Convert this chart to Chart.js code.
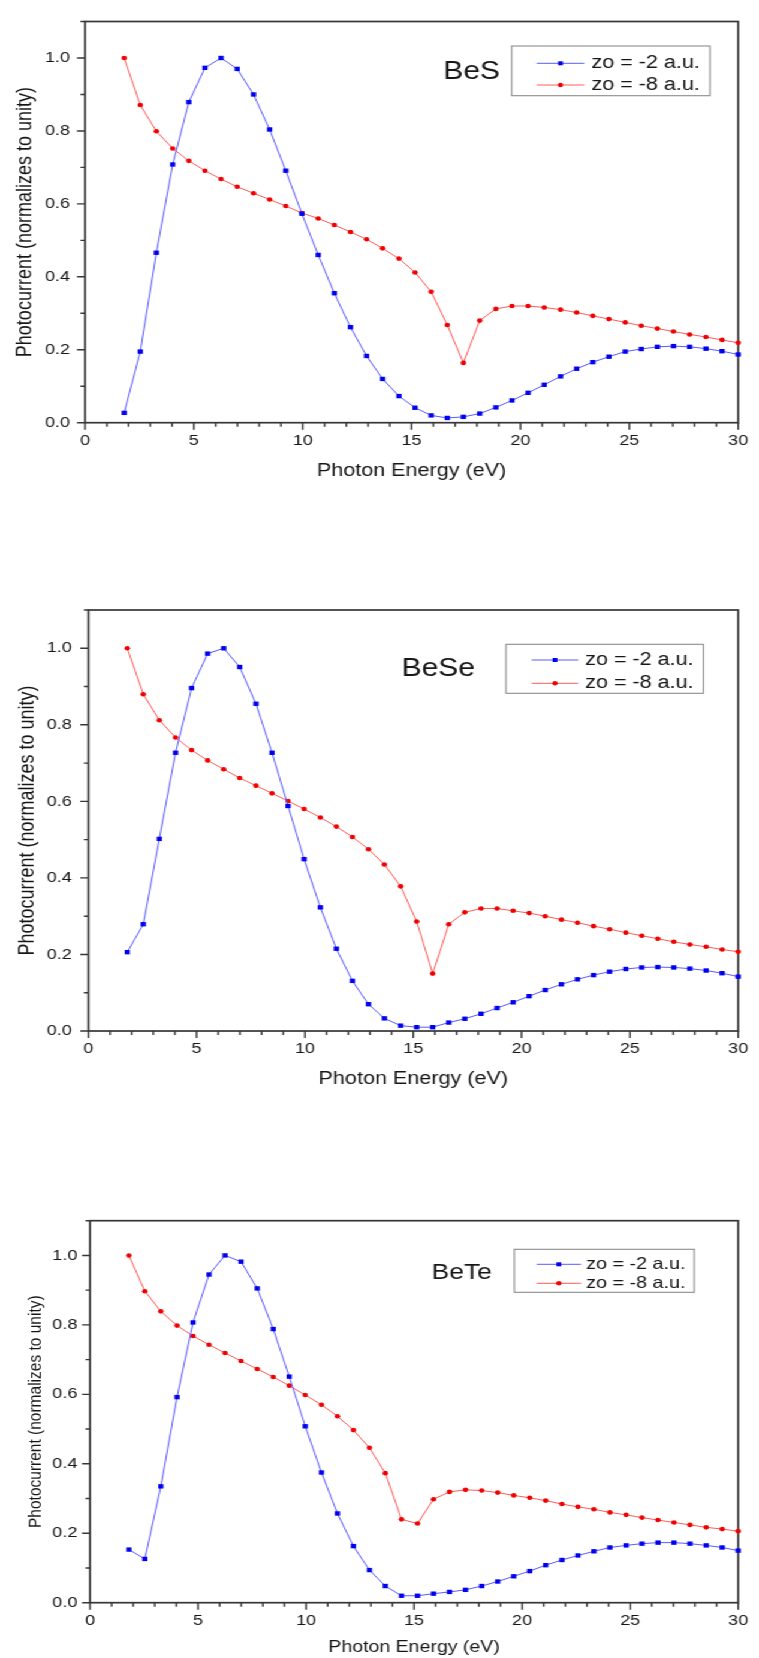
<!DOCTYPE html>
<html>
<head>
<meta charset="utf-8">
<title>Photocurrent vs photon energy</title>
<script src="https://cdn.jsdelivr.net/npm/chart.js@4.4.1/dist/chart.umd.min.js"></script>
<style>
  html, body { margin: 0; padding: 0; background: #fff; overflow: hidden; }
  #sheet { position: relative; width: 633px; height: 1658px; transform-origin: 0 0; }
  #sheet canvas { position: absolute; left: 0; }
</style>
</head>
<body>
<div id="sheet">
  <canvas id="chartBeS"></canvas>
  <canvas id="chartBeSe"></canvas>
  <canvas id="chartBeTe"></canvas>
</div>
<script>
'use strict';

// photon energy grid (eV), shared by every curve
const energies = [1.80, 2.54, 3.28, 4.03, 4.77, 5.51, 6.25, 6.99, 7.74, 8.48,
  9.22, 9.96, 10.71, 11.45, 12.19, 12.93, 13.67, 14.42, 15.16, 15.90,
  16.64, 17.38, 18.13, 18.87, 19.61, 20.35, 21.09, 21.84, 22.58, 23.32,
  24.06, 24.81, 25.55, 26.29, 27.03, 27.77, 28.52, 29.26, 30.00];

const xTickValues = [0, 5, 10, 15, 20, 25, 30];
const xTickLabels = ['0', '5', '10', '15', '20', '25', '30'];
const yTickValues = [0, 0.2, 0.4, 0.6, 0.8, 1.0];
const yTickLabels = ['0.0', '0.2', '0.4', '0.6', '0.8', '1.0'];
const seriesLabels = ['zo = -2 a.u.', 'zo = -8 a.u.'];

// normalised photocurrent
const besZo2 = [0.027, 0.195, 0.466, 0.708, 0.879, 0.973, 1.000, 0.970, 0.900, 0.804,
  0.691, 0.573, 0.460, 0.355, 0.262, 0.183, 0.120, 0.073, 0.041, 0.020,
  0.013, 0.016, 0.025, 0.042, 0.061, 0.082, 0.104, 0.127, 0.148, 0.166,
  0.181, 0.195, 0.202, 0.208, 0.210, 0.208, 0.203, 0.196, 0.187];
const besZo8 = [1.000, 0.871, 0.799, 0.752, 0.718, 0.691, 0.668, 0.647, 0.629, 0.612,
  0.594, 0.575, 0.560, 0.542, 0.523, 0.503, 0.478, 0.450, 0.412, 0.359,
  0.268, 0.164, 0.280, 0.312, 0.320, 0.320, 0.316, 0.310, 0.302, 0.293,
  0.284, 0.275, 0.266, 0.258, 0.250, 0.242, 0.235, 0.227, 0.219];

const beseZo2 = [0.206, 0.279, 0.502, 0.727, 0.896, 0.986, 1.000, 0.951, 0.855, 0.727,
  0.588, 0.449, 0.323, 0.215, 0.131, 0.070, 0.033, 0.014, 0.010, 0.010,
  0.022, 0.032, 0.045, 0.060, 0.075, 0.091, 0.107, 0.122, 0.135, 0.146,
  0.155, 0.162, 0.166, 0.167, 0.166, 0.163, 0.158, 0.151, 0.142];
const beseZo8 = [1.000, 0.880, 0.812, 0.767, 0.734, 0.707, 0.684, 0.661, 0.641, 0.621,
  0.601, 0.580, 0.558, 0.534, 0.507, 0.475, 0.435, 0.378, 0.286, 0.150,
  0.279, 0.310, 0.320, 0.320, 0.314, 0.308, 0.300, 0.291, 0.283, 0.274,
  0.266, 0.257, 0.249, 0.241, 0.233, 0.226, 0.220, 0.213, 0.207];

const beteZo2 = [0.153, 0.126, 0.335, 0.592, 0.807, 0.945, 1.000, 0.982, 0.905, 0.788,
  0.651, 0.508, 0.375, 0.257, 0.163, 0.094, 0.048, 0.020, 0.020, 0.026,
  0.031, 0.037, 0.048, 0.061, 0.076, 0.091, 0.108, 0.123, 0.136, 0.148,
  0.159, 0.165, 0.170, 0.173, 0.173, 0.170, 0.165, 0.159, 0.150];
const beteZo8 = [1.000, 0.897, 0.839, 0.798, 0.768, 0.743, 0.719, 0.696, 0.673, 0.650,
  0.625, 0.598, 0.570, 0.537, 0.497, 0.446, 0.373, 0.240, 0.228, 0.298,
  0.319, 0.325, 0.323, 0.317, 0.309, 0.302, 0.294, 0.284, 0.276, 0.269,
  0.260, 0.253, 0.245, 0.238, 0.231, 0.224, 0.217, 0.212, 0.206];

// the sheet is drawn narrow and widened with CSS (Origin-style wide lettering)
const SHEET_W = 633;
const STRETCH = 759 / SHEET_W;
const FONT = '"Liberation Sans", Arial, sans-serif';
const INK = '#161616';
const AXIS = '#363636';
const BLUE_LINE = '#5a5aff', BLUE_DOT = '#0000f0';
const RED_LINE = '#ff5a5a', RED_DOT = '#f00000';

document.getElementById('sheet').style.transform = 'scaleX(' + STRETCH + ')';

// layout in page pixels (x values get divided by STRETCH)
const panels = [
  {
    id: 'chartBeS', name: 'BeS', zo2: besZo2, zo8: besZo8, top: 0, height: 500,
    plot: { left: 85, right: 743.3, top: 9, bottom: 422.7 },
    yLabelRight: 70, yTitleX: 25.8, xTitleDY: 48, yTitleSize: 18, xTitleSize: 18,
    legend: { left: 511.7, right: 710, top: 46, bottom: 95.7, lineFrom: 536.7, lineTo: 584.3,
      textX: 591.5, rows: [63.3, 85], size: 18 },
    tag: { x: 443.3, y: 72.5, size: 25 }
  },
  {
    id: 'chartBeSe', name: 'BeSe', zo2: beseZo2, zo8: beseZo8, top: 560, height: 560,
    plot: { left: 88.3, right: 744.3, top: 610, bottom: 1031 },
    yLabelRight: 71.7, yTitleX: 27.5, xTitleDY: 47.7, yTitleSize: 18, xTitleSize: 18,
    legend: { left: 506, right: 703.3, top: 644.3, bottom: 693.3, lineFrom: 531.7, lineTo: 578.3,
      textX: 585, rows: [660, 683.3], size: 18 },
    tag: { x: 401.7, y: 669, size: 25 }
  },
  {
    id: 'chartBeTe', name: 'BeTe', zo2: beteZo2, zo8: beteZo8, top: 1130, height: 528,
    plot: { left: 90, right: 748.3, top: 1220.7, bottom: 1602.7 },
    yLabelRight: 77.3, yTitleX: 35.8, xTitleDY: 45.3, yTitleSize: 15.5, xTitleSize: 16.3,
    legend: { left: 514.3, right: 694.3, top: 1249.3, bottom: 1292.3, lineFrom: 536.7, lineTo: 581,
      textX: 586, rows: [1264.3, 1283.3], size: 16.5 },
    tag: { x: 431.7, y: 1273, size: 22 }
  }
];

// frame round the plot plus outward ticks: long on labelled values, short in between
const frameTicks = {
  id: 'frameTicks',
  beforeDatasetsDraw(chart) {
    const { ctx, chartArea: a, scales: { x, y } } = chart;
    ctx.save();
    ctx.strokeStyle = AXIS;
    ctx.lineWidth = 1.7;
    ctx.strokeRect(a.left, a.top, a.right - a.left, a.bottom - a.top);

    ctx.lineWidth = 1.4;
    ctx.beginPath();
    for (let v = x.min; v <= x.max + 1e-9; v += 1) {
      const px = x.getPixelForValue(v);
      const len = xTickValues.includes(v) ? 7 : 4;
      ctx.moveTo(px, a.bottom);
      ctx.lineTo(px, a.bottom + len);
    }
    ctx.stroke();

    ctx.beginPath();
    for (let k = 0; k <= 11; k++) {
      const py = y.getPixelForValue(k / 10);
      const len = (k % 2 === 0 ? 8 : 4.5) / STRETCH;
      ctx.moveTo(a.left, py);
      ctx.lineTo(a.left - len, py);
    }
    ctx.stroke();
    ctx.restore();
  }
};

// compound name and the boxed legend
const panelLabels = {
  id: 'panelLabels',
  afterDraw(chart, args, opts) {
    const p = opts.panel;
    if (!p) return;
    const { ctx } = chart;
    const L = p.legend;
    const sx = v => v / STRETCH;
    const sy = v => v - p.top;
    ctx.save();

    ctx.fillStyle = INK;
    ctx.font = p.tag.size + 'px ' + FONT;
    ctx.textBaseline = 'middle';
    ctx.textAlign = 'left';
    ctx.fillText(p.name, sx(p.tag.x), sy(p.tag.y));

    ctx.strokeStyle = '#8c8c8c';
    ctx.lineWidth = 1.1;
    ctx.strokeRect(sx(L.left), sy(L.top), sx(L.right) - sx(L.left), L.bottom - L.top);

    chart.data.datasets.forEach((ds, i) => {
      const ry = sy(L.rows[i]);
      ctx.strokeStyle = ds.borderColor;
      ctx.lineWidth = 1;
      ctx.beginPath();
      ctx.moveTo(sx(L.lineFrom), ry);
      ctx.lineTo(sx(L.lineTo), ry);
      ctx.stroke();

      const cx = (sx(L.lineFrom) + sx(L.lineTo)) / 2;
      ctx.fillStyle = ds.pointBackgroundColor;
      if (ds.pointStyle === 'rect') {
        ctx.fillRect(cx - 2, ry - 2, 4, 4);
      } else {
        ctx.beginPath();
        ctx.arc(cx, ry, 2.2, 0, Math.PI * 2);
        ctx.fill();
      }

      ctx.fillStyle = INK;
      ctx.font = L.size + 'px ' + FONT;
      ctx.fillText(ds.label, sx(L.textX), ry);
    });
    ctx.restore();
  }
};

function buildChart(p) {
  const canvas = document.getElementById(p.id);
  canvas.width = SHEET_W;
  canvas.height = p.height;
  canvas.style.top = p.top + 'px';

  const plotTop = p.plot.top - p.top;
  const plotBottom = p.plot.bottom - p.top;
  const xAxisHeight = p.height - plotBottom;

  new Chart(canvas, {
    type: 'line',
    data: {
      datasets: [
        {
          label: seriesLabels[0],
          data: energies.map((e, i) => ({ x: e, y: p.zo2[i] })),
          borderColor: BLUE_LINE,
          borderWidth: 1,
          pointStyle: 'rect',
          pointRadius: 3.1,
          pointBorderWidth: 0,
          pointBackgroundColor: BLUE_DOT,
          tension: 0,
          clip: false
        },
        {
          label: seriesLabels[1],
          data: energies.map((e, i) => ({ x: e, y: p.zo8[i] })),
          borderColor: RED_LINE,
          borderWidth: 1,
          pointStyle: 'circle',
          pointRadius: 2.3,
          pointBorderWidth: 0,
          pointBackgroundColor: RED_DOT,
          tension: 0,
          clip: false
        }
      ]
    },
    options: {
      responsive: false,
      devicePixelRatio: 1,
      animation: false,
      layout: {
        padding: { left: 0, top: plotTop, right: SHEET_W - p.plot.right / STRETCH, bottom: 0 }
      },
      scales: {
        x: {
          type: 'linear',
          min: 0,
          max: 30,
          afterBuildTicks: s => { s.ticks = xTickValues.map(v => ({ value: v })); },
          afterFit: s => { s.height = xAxisHeight; },
          grid: { display: false, drawTicks: false },
          border: { display: false },
          ticks: {
            autoSkip: false,
            maxRotation: 0,
            padding: 9,
            color: INK,
            font: { family: FONT, size: 15 },
            callback: (v, i) => xTickLabels[i]
          },
          title: {
            display: true,
            text: 'Photon Energy (eV)',
            color: INK,
            font: { family: FONT, size: p.xTitleSize },
            padding: { top: 0, bottom: xAxisHeight - p.xTitleDY - p.xTitleSize * 0.6 }
          }
        },
        y: {
          min: 0,
          max: 1.1,
          afterBuildTicks: s => { s.ticks = yTickValues.map(v => ({ value: v })); },
          afterFit: s => { s.width = p.plot.left / STRETCH; },
          grid: { display: false, drawTicks: false },
          border: { display: false },
          ticks: {
            padding: (p.plot.left - p.yLabelRight) / STRETCH,
            color: INK,
            font: { family: FONT, size: 15 },
            callback: (v, i) => yTickLabels[i]
          },
          title: {
            display: true,
            text: 'Photocurrent (normalizes to unity)',
            color: INK,
            font: { family: FONT, size: p.yTitleSize },
            padding: { top: p.yTitleX / STRETCH - p.yTitleSize * 0.6, bottom: 0 }
          }
        }
      },
      plugins: {
        legend: { display: false },
        tooltip: { enabled: false },
        panelLabels: { panel: p }
      }
    },
    plugins: [frameTicks, panelLabels]
  });
}

panels.forEach(buildChart);
</script>
</body>
</html>
